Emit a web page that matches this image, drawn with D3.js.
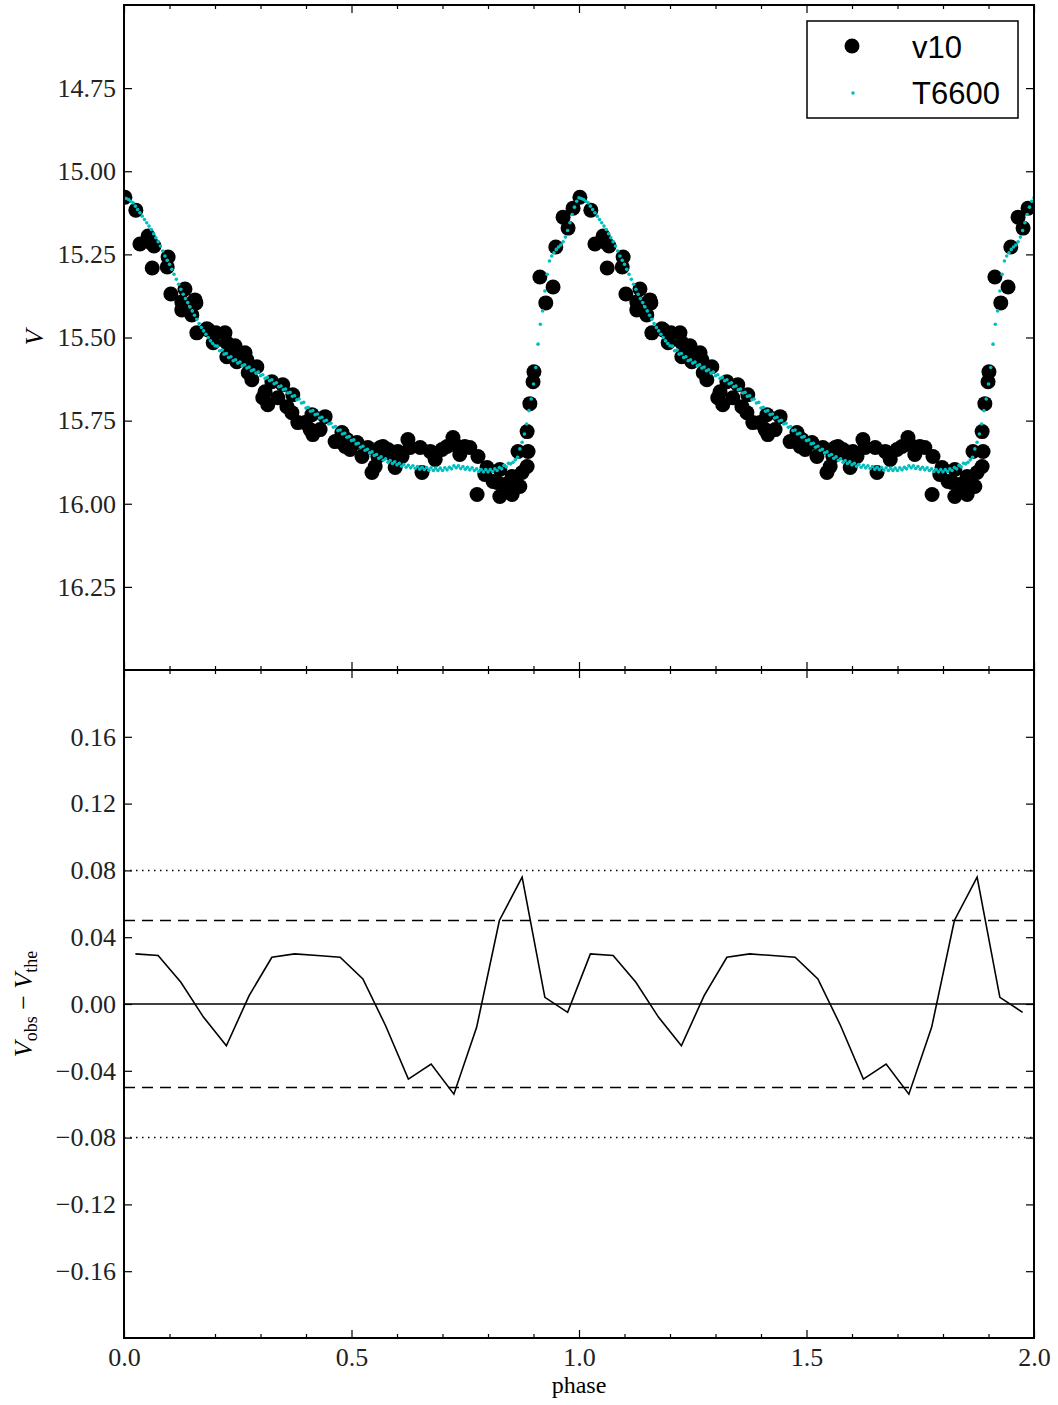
<!DOCTYPE html>
<html>
<head>
<meta charset="utf-8">
<script src="https://cdn.jsdelivr.net/npm/d3@7"></script>
<style>
  body { margin: 0; background: #fff; }
  .tick text { font-family: "Liberation Serif", "DejaVu Serif", serif; font-size: 26px; fill: #222; }
</style>
</head>
<body>
<div id="chart"></div>
<script>
// observed light curve of v10, one cycle (drawn at phase and phase+1)
var obsPhase = [0.002,0.026,0.035,0.053,0.066,0.062,0.097,0.095,0.103,0.134,0.127,0.158,0.149,0.160,0.182,0.202,
  0.196,0.226,0.244,0.226,0.248,0.266,0.270,0.292,0.273,0.325,0.349,0.310,0.316,0.371,0.369,0.382,0.413,0.442,
  0.415,0.464,0.490,0.512,0.497,0.536,0.523,0.563,0.545,0.558,0.569,0.589,0.602,0.596,0.651,0.673,0.655,0.699,
  0.723,0.710,0.749,0.760,0.778,0.798,0.826,0.776,0.820,0.826,0.853,0.859,0.853,0.870,0.837,0.811,0.875,0.886,
  0.888,0.866,0.886,0.892,0.899,0.901,0.914,0.927,0.943,0.949,0.965,0.976,0.987,
  0.222,0.255,0.281,0.305,0.338,0.358,0.398,0.431,0.409,0.479,0.486,0.552,0.580,0.611,0.677,0.629,
  0.057,0.156,0.185,0.237,0.127,0.684,0.738,0.793,0.844,0.624,0.727];
var obsV = [15.078,15.117,15.219,15.195,15.225,15.291,15.258,15.288,15.369,15.354,15.393,15.396,15.432,15.486,15.474,15.486,
  15.516,15.516,15.525,15.558,15.573,15.546,15.567,15.588,15.606,15.633,15.642,15.663,15.702,15.672,15.726,15.756,15.732,15.738,
  15.792,15.813,15.807,15.816,15.837,15.831,15.858,15.831,15.906,15.858,15.828,15.852,15.843,15.891,15.831,15.843,15.906,15.837,
  15.801,15.828,15.828,15.831,15.858,15.891,15.897,15.972,15.936,15.978,15.972,15.927,15.918,15.948,15.942,15.933,15.906,15.888,
  15.843,15.843,15.783,15.699,15.633,15.603,15.318,15.396,15.348,15.228,15.138,15.171,15.111,
  15.486,15.558,15.627,15.681,15.681,15.708,15.756,15.777,15.777,15.786,15.828,15.888,15.837,15.858,15.846,15.831,
  15.213,15.387,15.477,15.528,15.417,15.867,15.852,15.912,15.957,15.807,15.822];

// T6600 model, one cycle sampled every 0.005 in phase
var modelStep = 0.005;
var modelV = [
  15.080,15.082,15.085,15.090,15.095,15.105,15.115,15.125,15.135,15.145,
  15.155,15.165,15.175,15.188,15.200,15.212,15.225,15.240,15.255,15.268,
  15.280,15.295,15.310,15.325,15.340,15.355,15.370,15.383,15.395,15.408,
  15.420,15.433,15.445,15.458,15.470,15.480,15.490,15.500,15.510,15.518,
  15.525,15.526,15.540,15.538,15.550,15.548,15.560,15.558,15.570,15.567,
  15.577,15.574,15.585,15.582,15.592,15.589,15.600,15.597,15.607,15.604,
  15.615,15.612,15.623,15.620,15.630,15.627,15.639,15.636,15.648,15.646,
  15.657,15.655,15.667,15.665,15.677,15.675,15.687,15.685,15.697,15.695,
  15.712,15.710,15.722,15.720,15.732,15.730,15.742,15.740,15.751,15.749,
  15.760,15.758,15.770,15.768,15.780,15.778,15.790,15.788,15.800,15.798,
  15.810,15.808,15.820,15.818,15.830,15.827,15.839,15.836,15.847,15.844,
  15.855,15.852,15.863,15.859,15.869,15.865,15.875,15.870,15.879,15.874,
  15.883,15.878,15.887,15.882,15.890,15.884,15.892,15.886,15.894,15.888,
  15.896,15.890,15.897,15.891,15.899,15.892,15.900,15.893,15.900,15.893,
  15.900,15.892,15.898,15.890,15.895,15.886,15.892,15.886,15.894,15.888,
  15.896,15.890,15.898,15.892,15.900,15.895,15.903,15.897,15.904,15.897,
  15.904,15.897,15.903,15.895,15.900,15.891,15.895,15.885,15.889,15.878,
  15.880,15.875,15.868,15.860,15.835,15.815,15.790,15.760,15.720,15.685,
  15.640,15.590,15.520,15.460,15.420,15.360,15.310,15.270,15.255,15.245,
  15.235,15.228,15.222,15.212,15.198,15.178,15.155,15.130,15.108,15.090];

// residuals V_obs - V_the, phase 0 to 2
var resPhase = [0.025,0.075,0.125,0.175,0.225,0.275,0.325,0.375,0.425,0.475,0.525,0.575,0.625,0.675,0.725,0.775,0.825,0.875,0.925,0.975,
  1.025,1.075,1.125,1.175,1.225,1.275,1.325,1.375,1.425,1.475,1.525,1.575,1.625,1.675,1.725,1.775,1.825,1.875,1.925,1.975];
var resValue = [0.030,0.029,0.013,-0.008,-0.025,0.005,0.028,0.030,0.029,0.028,0.015,-0.013,-0.045,-0.036,-0.054,-0.014,0.050,0.076,0.004,-0.005,
  0.030,0.029,0.013,-0.008,-0.025,0.005,0.028,0.030,0.029,0.028,0.015,-0.013,-0.045,-0.036,-0.054,-0.014,0.050,0.076,0.004,-0.005];

var vTicks = [14.75, 15.00, 15.25, 15.50, 15.75, 16.00, 16.25];
var resTicks = [0.16, 0.12, 0.08, 0.04, 0.00, -0.04, -0.08, -0.12, -0.16];
var phaseTicks = [0.0, 0.5, 1.0, 1.5, 2.0];
var phaseMinor = [0.1,0.2,0.3,0.4,0.6,0.7,0.8,0.9,1.1,1.2,1.3,1.4,1.6,1.7,1.8,1.9];
var refLines = [
  {v: 0.00, dash: null},
  {v: 0.05, dash: "11,7"}, {v: -0.05, dash: "11,7"},
  {v: 0.08, dash: "1.5,4.5"}, {v: -0.08, dash: "1.5,4.5"}
];

var W = 1058, H = 1405;
var left = 124, right = 1034, top1 = 5, mid = 670, bot = 1338;

var svg = d3.select("#chart").append("svg")
    .attr("width", W).attr("height", H)
    .style("display", "block");

var x = d3.scaleLinear().domain([0, 2]).range([left, right]);
var yTop = d3.scaleLinear().domain([14.5, 16.5]).range([top1, mid]);
var yBot = d3.scaleLinear().domain([0.2, -0.2]).range([mid, bot]);

// clip paths for the two panels
var defs = svg.append("defs");
defs.append("clipPath").attr("id", "clipTop").append("rect")
    .attr("x", left).attr("y", top1).attr("width", right - left).attr("height", mid - top1);
defs.append("clipPath").attr("id", "clipBot").append("rect")
    .attr("x", left).attr("y", mid).attr("width", right - left).attr("height", bot - mid);

// ---- top panel: light curve ----
var gTop = svg.append("g").attr("clip-path", "url(#clipTop)");
var obs = [];
obsPhase.forEach(function(p, i) {
  obs.push({p: p, v: obsV[i]});
  obs.push({p: p + 1, v: obsV[i]});
});
gTop.selectAll("circle.obs").data(obs).enter().append("circle")
    .attr("class", "obs")
    .attr("cx", function(d) { return x(d.p); })
    .attr("cy", function(d) { return yTop(d.v); })
    .attr("r", 7.5)
    .attr("fill", "#000");

var model = [];
modelV.forEach(function(v, i) {
  model.push({p: i * modelStep, v: v});
  model.push({p: i * modelStep + 1, v: v});
});
model.push({p: 2, v: modelV[0]});
gTop.selectAll("circle.mod").data(model).enter().append("circle")
    .attr("class", "mod")
    .attr("cx", function(d) { return x(d.p); })
    .attr("cy", function(d) { return yTop(d.v); })
    .attr("r", 1.8)
    .attr("fill", "#00bfbf");

// ---- bottom panel: residuals ----
var gBot = svg.append("g").attr("clip-path", "url(#clipBot)");
gBot.selectAll("line.ref").data(refLines).enter().append("line")
    .attr("x1", left).attr("x2", right)
    .attr("y1", function(d) { return yBot(d.v); })
    .attr("y2", function(d) { return yBot(d.v); })
    .attr("stroke", "#000")
    .attr("stroke-width", 1.5)
    .attr("stroke-dasharray", function(d) { return d.dash; });

var res = resPhase.map(function(p, i) { return {p: p, v: resValue[i]}; });
var resLine = d3.line()
    .x(function(d) { return x(d.p); })
    .y(function(d) { return yBot(d.v); });
gBot.append("path")
    .datum(res)
    .attr("d", resLine)
    .attr("fill", "none")
    .attr("stroke", "#000")
    .attr("stroke-width", 1.6);

// ---- axes (matplotlib style, ticks pointing inward) ----
function noDomain(g) { g.select(".domain").remove(); g.selectAll(".tick line").attr("stroke", "#000").attr("stroke-width", 1.2); }

// y axes top panel
svg.append("g").attr("transform", "translate(" + left + ",0)")
    .call(d3.axisLeft(yTop).tickValues(vTicks).tickSize(-8).tickPadding(8).tickFormat(d3.format(".2f")))
    .call(noDomain);
svg.append("g").attr("transform", "translate(" + right + ",0)")
    .call(d3.axisRight(yTop).tickValues(vTicks).tickSize(-8).tickFormat(""))
    .call(noDomain);

// y axes bottom panel
svg.append("g").attr("transform", "translate(" + left + ",0)")
    .call(d3.axisLeft(yBot).tickValues(resTicks).tickSize(-8).tickPadding(8).tickFormat(d3.format(".2f")))
    .call(noDomain);
svg.append("g").attr("transform", "translate(" + right + ",0)")
    .call(d3.axisRight(yBot).tickValues(resTicks).tickSize(-8).tickFormat(""))
    .call(noDomain);

// x ticks on every horizontal frame edge
[[top1, "down"], [mid, "up"], [mid, "down"], [bot, "up"]].forEach(function(e) {
  var ax = e[1] === "down" ? d3.axisTop : d3.axisBottom;
  svg.append("g").attr("transform", "translate(0," + e[0] + ")")
      .call(ax(x).tickValues(phaseTicks).tickSize(-8).tickFormat(""))
      .call(noDomain);
  svg.append("g").attr("transform", "translate(0," + e[0] + ")")
      .call(ax(x).tickValues(phaseMinor).tickSize(-4).tickFormat(""))
      .call(noDomain);
});
// x labels under the bottom panel
svg.append("g").attr("transform", "translate(0," + bot + ")")
    .call(d3.axisBottom(x).tickValues(phaseTicks).tickSize(0).tickPadding(10).tickFormat(d3.format(".1f")))
    .call(function(g) { g.select(".domain").remove(); });

// frames
[[top1, mid], [mid, bot]].forEach(function(r) {
  svg.append("rect")
      .attr("x", left).attr("y", r[0])
      .attr("width", right - left).attr("height", r[1] - r[0])
      .attr("fill", "none").attr("stroke", "#000").attr("stroke-width", 2);
});

// axis titles
var serif = "Liberation Serif, DejaVu Serif, serif";
svg.append("text")
    .attr("transform", "translate(43," + ((top1 + mid) / 2) + ") rotate(-90)")
    .attr("text-anchor", "middle")
    .style("font-family", serif).style("font-style", "italic").style("font-size", "26px")
    .text("V");

var t2 = svg.append("text")
    .attr("transform", "translate(32," + ((mid + bot) / 2) + ") rotate(-90)")
    .attr("text-anchor", "middle")
    .style("font-family", serif).style("font-size", "26px");
t2.append("tspan").style("font-style", "italic").text("V");
t2.append("tspan").attr("dy", 5).style("font-size", "18px").text("obs");
t2.append("tspan").attr("dy", -5).text(" \u2212 ");
t2.append("tspan").style("font-style", "italic").text("V");
t2.append("tspan").attr("dy", 5).style("font-size", "18px").text("the");

svg.append("text")
    .attr("x", (left + right) / 2).attr("y", 1393)
    .attr("text-anchor", "middle")
    .style("font-family", serif).style("font-size", "24px")
    .text("phase");

// legend
var lg = svg.append("g");
lg.append("rect").attr("x", 807).attr("y", 21).attr("width", 211).attr("height", 97)
    .attr("fill", "#fff").attr("stroke", "#000").attr("stroke-width", 1.5);
lg.append("circle").attr("cx", 852).attr("cy", 46).attr("r", 7.5).attr("fill", "#000");
lg.append("circle").attr("cx", 853).attr("cy", 93).attr("r", 1.8).attr("fill", "#00bfbf");
lg.append("text").attr("x", 912).attr("y", 58)
    .style("font-family", "Liberation Sans, Arial, sans-serif").style("font-size", "31px").text("v10");
lg.append("text").attr("x", 912).attr("y", 104)
    .style("font-family", "Liberation Sans, Arial, sans-serif").style("font-size", "31px").text("T6600");
</script>
</body>
</html>
